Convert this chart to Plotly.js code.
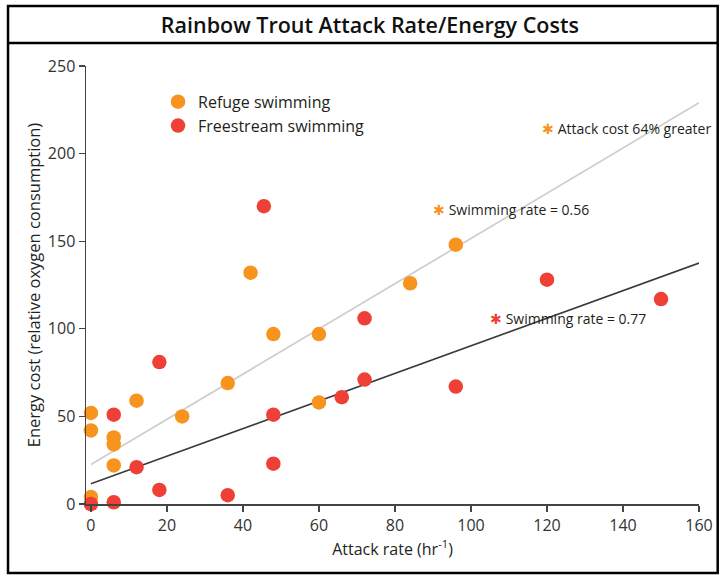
<!DOCTYPE html>
<html>
<head>
<meta charset="utf-8">
<script src="https://cdn.plot.ly/plotly-3.0.1.min.js"></script>
<style>html,body{margin:0;padding:0;background:#fff;}#chart{width:721px;height:575px;}</style>
</head>
<body>
<div id="chart"></div>
<script>
// Refuge swimming (orange)
var refugeX = [0, 0, 0, 6, 6, 6, 12, 24, 36, 42, 48, 60, 60, 84, 96];
var refugeY = [52, 42, 4, 38, 34, 22, 59, 50, 69, 132, 97, 97, 58, 126, 148];
// Freestream swimming (red)
var freeX = [0, 6, 6, 12, 18, 18, 36, 45.5, 48, 48, 66, 72, 72, 96, 120, 150];
var freeY = [0, 51, 1, 21, 81, 8, 5, 170, 51, 23, 61, 71, 106, 67, 128, 117];
// Fit lines
var fitX = [0, 160];
var refugeFitY = [22.5, 229];
var freeFitY = [11.5, 137.5];
// Annotation notes
var noteX = [118.2, 89.6, 104.6];
var noteY = [214.5, 168, 106];
var noteText = ["Attack cost 64% greater", "Swimming rate = 0.56", "Swimming rate = 0.77"];
var noteStarColor = ["#F7941D", "#F7941D", "#EE4036"];
var xTicks = [0, 20, 40, 60, 80, 100, 120, 140, 160];
var yTicks = [0, 50, 100, 150, 200, 250];

var orange = "#F7941D", red = "#EE4036";
var FONT = "Open Sans, Noto Sans, sans-serif";

var traces = [
  {x: fitX, y: refugeFitY, mode: "lines", line: {color: "#CFCFCF", width: 1.8}, showlegend: false, hoverinfo: "skip", cliponaxis: false},
  {x: fitX, y: freeFitY, mode: "lines", line: {color: "#3A3A3A", width: 1.6}, showlegend: false, hoverinfo: "skip", cliponaxis: false},
  {x: refugeX, y: refugeY, mode: "markers", name: "Refuge swimming", marker: {color: orange, size: 14.5}, cliponaxis: false},
  {x: freeX, y: freeY, mode: "markers", name: "Freestream swimming", marker: {color: red, size: 14.5}, cliponaxis: false}
];

var annotations = noteText.map(function (t, i) {
  return {x: noteX[i], y: noteY[i], xref: "x", yref: "y", xanchor: "left", yanchor: "middle", showarrow: false,
    text: '<span style="color:' + noteStarColor[i] + '">✱</span> ' + t,
    font: {family: FONT, size: 14, color: "#231F20"}};
});

var shapes = [
  {type: "rect", xref: "paper", yref: "paper", x0: -0.1272, x1: 1.0305, y0: -0.1575, y1: 1.137, line: {color: "#000", width: 2.5}},
  {type: "line", xref: "paper", yref: "paper", x0: -0.1272, x1: 1.0305, y0: 1.0525, y1: 1.0525, line: {color: "#000", width: 2.5}}
];

var layout = {
  width: 721, height: 575,
  margin: {l: 86, r: 22, t: 66, b: 71},
  paper_bgcolor: "#fff", plot_bgcolor: "#fff",
  font: {family: FONT, color: "#333"},
  title: {text: "Rainbow Trout Attack Rate/Energy Costs", x: 0.513, xanchor: "center", y: 0.956, yanchor: "middle",
    font: {family: FONT, size: 21.5, color: "#111", weight: 600}},
  xaxis: {range: [-1.3, 160], tickvals: xTicks, ticks: "outside", ticklen: 6, tickcolor: "#444", tickwidth: 1.3,
    showline: true, linecolor: "#444", linewidth: 1.5, showgrid: false, zeroline: false,
    tickfont: {family: FONT, size: 16, color: "#333"},
    title: {text: "Attack rate (hr<sup>-1</sup>)", font: {family: FONT, size: 16, color: "#231F20"}, standoff: 9}},
  yaxis: {range: [0, 250], tickvals: yTicks, ticks: "outside", ticklen: 6, tickcolor: "#444", tickwidth: 1.3,
    showline: true, linecolor: "#444", linewidth: 1.5, showgrid: false, zeroline: false,
    tickfont: {family: FONT, size: 16, color: "#333"},
    title: {text: "Energy cost (relative oxygen consumption)", font: {family: FONT, size: 16.5, color: "#231F20"}, standoff: 3}},
  legend: {x: 0.1175, y: 0.957, xanchor: "left", yanchor: "top", bgcolor: "rgba(0,0,0,0)",
    font: {family: FONT, size: 16, color: "#231F20"}, tracegroupgap: 0},
  annotations: annotations,
  shapes: shapes,
  showlegend: true
};

Plotly.newPlot("chart", traces, layout, {displayModeBar: false, staticPlot: true});
</script>
</body>
</html>
